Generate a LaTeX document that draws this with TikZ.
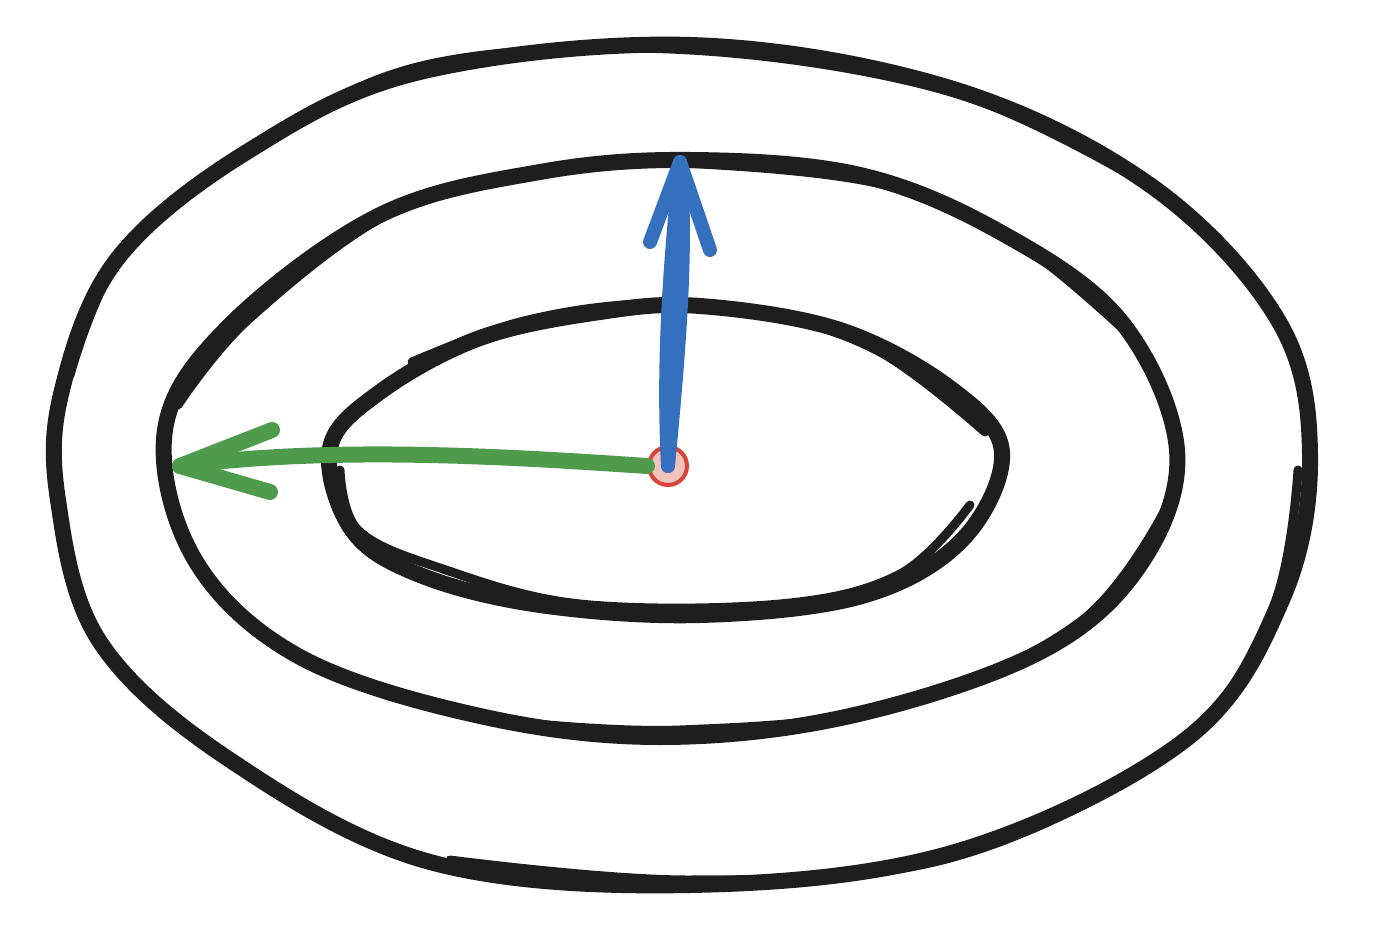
\documentclass[tikz,border=0pt]{standalone}
\definecolor{ink}{HTML}{1E1E1E}
\definecolor{arrblue}{HTML}{3570BE}
\definecolor{arrgreen}{HTML}{4F9B4C}
\definecolor{dotred}{HTML}{D9453A}
\definecolor{dotfill}{HTML}{F3C3BE}
\tikzset{
  contour/.style={draw=ink,line width=8pt,line cap=round,line join=round},
  contourthin/.style={draw=ink,line width=4.5pt,line cap=round,line join=round},
  bluearr/.style={draw=arrblue,line width=7pt,line cap=round,line join=round},
  greenarr/.style={draw=arrgreen,line width=8pt,line cap=round,line join=round},
  dot/.style={circle,draw=dotred,fill=dotfill,line width=2pt,minimum size=19pt,inner sep=0pt}
}
\begin{document}
\begin{tikzpicture}[x=0.5pt,y=-0.5pt]
\useasboundingbox[fill=white] (0,0) rectangle (1386,946);
% outer contour
\draw[contour] plot[smooth cycle,tension=0.6] coordinates {(62,390) (118,258) (250,150) (420,72) (690,45) (950,88) (1150,185) (1278,320) (1310,455) (1282,600) (1185,740) (955,852) (690,885) (430,862) (230,760) (100,642) (58,500)};
\draw[contourthin] plot[smooth,tension=0.6] coordinates {(70,375) (125,250) (258,144) (430,64) (690,50) (958,94) (1156,190)};
\draw[contourthin] plot[smooth,tension=0.6] coordinates {(1298,470) (1272,610) (1175,748) (950,858) (690,880) (450,860)};
% middle contour
\draw[contour] plot[smooth cycle,tension=0.6] coordinates {(165,430) (230,325) (380,215) (540,172) (690,160) (860,175) (1000,232) (1120,320) (1177,450) (1140,565) (1040,652) (850,716) (660,737) (480,716) (300,657) (195,560)};
\draw[contourthin] plot[smooth,tension=0.6] coordinates {(178,405) (250,318) (396,210) (556,168) (700,164) (890,186) (1020,244) (1135,340)};
\draw[contourthin] plot[smooth,tension=0.6] coordinates {(1165,510) (1080,622) (900,706) (680,730) (515,722)};
% inner contour
\draw[contour] plot[smooth cycle,tension=0.6] coordinates {(330,448) (380,392) (480,338) (600,312) (700,306) (840,330) (950,388) (1002,452) (962,540) (862,596) (700,615) (540,605) (420,575) (352,530)};
\draw[contourthin] plot[smooth,tension=0.6] coordinates {(412,362) (520,322) (640,304) (760,312) (880,352) (985,432)};
\draw[contourthin] plot[smooth,tension=0.6] coordinates {(340,470) (358,530) (440,568) (580,604) (780,604) (900,574) (970,505)};
% centre point
\node[dot] (c) at (668,466) {};
% arrow tips
\coordinate (up) at (680,162);
\coordinate (left) at (180,466);
% blue arrow
\draw[bluearr] (c.center) .. controls (662,350) and (672,250) .. (up);
\draw[bluearr] (c.center) .. controls (678,360) and (688,250) .. (up);
\draw[bluearr] (650,242) -- (up) -- (710,250);
% green arrow
\draw[greenarr] (c.west) .. controls (500,456) and (330,446) .. (left);
\draw[greenarr] (272,430) -- (left) -- (270,492);
\end{tikzpicture}
\end{document}
